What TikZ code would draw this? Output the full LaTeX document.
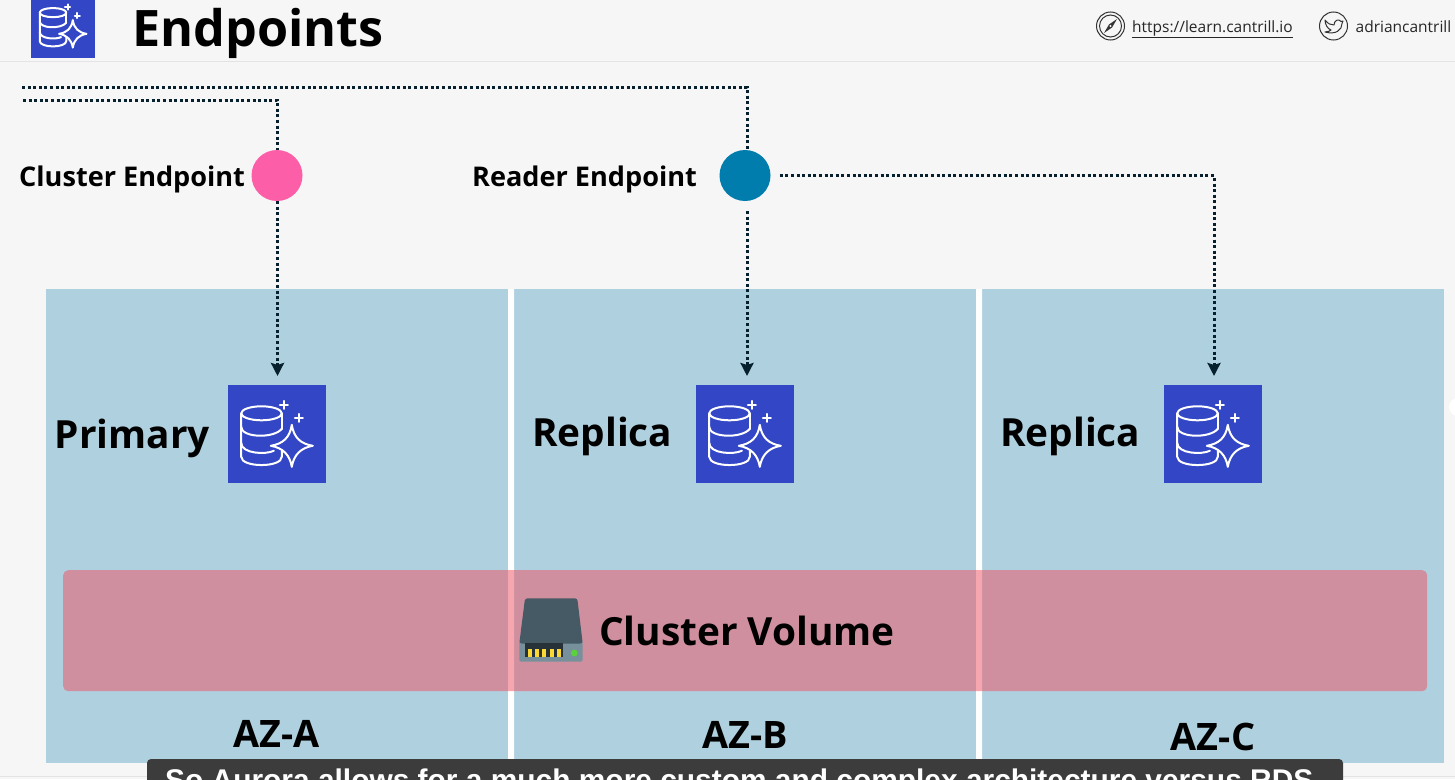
\documentclass[tikz,border=0pt]{standalone}
\usepackage{fontspec}
\setmainfont{Open Sans}
\newfontfamily\subfont{Liberation Sans}
\usetikzlibrary{arrows.meta}
\definecolor{bgc}{RGB}{246,246,246}
\definecolor{rulec}{RGB}{228,228,228}
\definecolor{azc}{RGB}{175,208,222}
\definecolor{bandc}{RGB}{236,86,102}
\definecolor{iconc}{RGB}{50,70,198}
\definecolor{pinkc}{RGB}{252,95,168}
\definecolor{bluec}{RGB}{0,124,173}
\definecolor{linec}{RGB}{6,32,46}
\definecolor{drvtop}{RGB}{69,90,100}
\definecolor{drvbase}{RGB}{120,144,156}
\definecolor{drvslot}{RGB}{38,50,56}
\definecolor{goldc}{RGB}{253,216,53}
\definecolor{greenc}{RGB}{90,210,60}
\definecolor{capc}{RGB}{60,60,60}
\tikzset{
  azbox/.style={fill=azc,draw=none,anchor=north west,minimum width=462pt,minimum height=474pt,inner sep=0pt},
  dbicon/.style={fill=iconc,draw=none,minimum size=98pt,inner sep=0pt},
  endpoint/.style={circle,draw=none,minimum size=51pt,inner sep=0pt},
  dotline/.style={draw=linec,line width=3pt,dash pattern=on 3pt off 2.6pt},
  dotarrow/.style={dotline,-{Stealth[length=13pt,width=13pt,inset=2pt]}},
  biglabel/.style={font=\bfseries\fontsize{38.8}{39}\selectfont,anchor=base west,inner sep=0pt,text=black},
  midlabel/.style={font=\bfseries\fontsize{27.1}{28}\selectfont,anchor=base west,inner sep=0pt,text=black},
  azlabel/.style={font=\bfseries\fontsize{37.8}{38}\selectfont,anchor=base,inner sep=0pt,text=black},
  toplink/.style={font=\fontsize{15.5}{16}\selectfont,anchor=base west,inner sep=0pt,text=black!85},
  glyph/.style={draw=white,line width=2pt,line cap=round,line join=round},
  dbglyph/.pic={
    \draw[glyph] (13.4,28.5) arc[start angle=180,end angle=-180,x radius=20.3,y radius=7];
    \draw[glyph] (13.4,28.5) -- (13.4,72) .. controls (13.4,83) and (54,83) .. (54,72) -- (54,66);
    \draw[glyph] (54,28.5) -- (54,44);
    \draw[glyph] (13.4,42) .. controls (13.4,53) and (46,54) .. (54,44);
    \draw[glyph] (13.4,58) .. controls (13.4,69) and (38,70) .. (46,66);
    \draw[glyph] (64,40) .. controls (66,53) and (73,59) .. (85,61)
      .. controls (73,63) and (66,70) .. (64,82)
      .. controls (62,70) and (55,63) .. (43,61)
      .. controls (55,59) and (62,53) .. (64,40) -- cycle;
    \draw[glyph] (52,20) -- (60,20) (56,16) -- (56,24);
    \draw[glyph] (67,33) -- (75,33) (71,29) -- (71,37);
  },
}
\begin{document}
\begin{tikzpicture}[x=1pt,y=-1pt]
\useasboundingbox (0,0) rectangle (1455,779);
\begin{scope}
\clip (0,0) rectangle (1455,779);
\fill[bgc] (0,0) rectangle (1455,779);
\draw[rulec,line width=1pt] (0,61.5) -- (1455,61.5);
\draw[rulec,line width=1pt] (0,776.5) -- (1455,776.5);
\fill[white] (1458,407) circle[radius=9];
% zones
\node[azbox] (zonea) at (46,289) {};
\node[azbox] (zoneb) at (514,289) {};
\node[azbox] (zonec) at (982,289) {};
\fill[white] (508,289) rectangle (514,763) (976,289) rectangle (982,763);
% cluster volume band
\node[fill=bandc,fill opacity=.525,draw=none,rounded corners=5pt,anchor=north west,minimum width=1364pt,minimum height=121pt,inner sep=0pt] (band) at (63,570) {};
% drive icon
\fill[drvbase,rounded corners=2pt] (519.3,640) rectangle (582.7,661.7);
\fill[drvtop,rounded corners=2.5pt] (525,598.3) -- (577.3,598.3) -- (582.7,643.5) -- (519.3,643.5) -- cycle;
\fill[drvslot] (525,643) rectangle (563.3,656.7);
\foreach \px in {527.7,535,542.3,549.6,556.9} \fill[goldc] (\px,649.3) rectangle ++(4,7.4);
\fill[greenc] (574.3,653) circle[radius=3.4];
\node[biglabel] (volumelbl) at (599,645) {Cluster Volume};
% header
\node[dbicon,minimum size=64pt,anchor=north west] (hicon) at (31,-6) {};
\pic[scale=.653,transform shape] at (hicon.north west) {dbglyph};
\node[font=\bfseries\fontsize{50.3}{51}\selectfont,anchor=base west,inner sep=0pt] (title) at (132,46) {Endpoints};
% top right
\draw[black!80,line width=1pt] (1110.5,26) circle[radius=14] (1110.5,26) circle[radius=11];
\fill[black!80] (1104,33) -- (1109,24.5) -- (1117,19) -- (1112,27.5) -- cycle;
\fill[bgc] (1110.5,26) circle[radius=1.2];
\node[toplink] (site) at (1132,32) {\underline{https://learn.cantrill.io}};
\draw[black!80,line width=1pt] (1333.5,26) circle[radius=14];
\draw[black!80,line width=1pt,line join=round] (1325,20) .. controls (1328,24) and (1331,25) .. (1334,25)
  .. controls (1334,20) and (1339,18.5) .. (1341,21.5) -- (1343,21) -- (1342,23.5)
  .. controls (1342,30) and (1336,35) .. (1325,32)
  .. controls (1328,32) and (1330,31) .. (1331,30)
  .. controls (1328,29) and (1325,25) .. (1325,20) -- cycle;
\node[toplink] (handle) at (1355.5,32) {adriancantrill};
% endpoints
\node[endpoint,fill=pinkc] (cluster) at (277,175.5) {};
\node[endpoint,fill=bluec] (reader) at (745,175.5) {};
\node[midlabel] (clusterlbl) at (19,186) {Cluster Endpoint};
\node[midlabel] (readerlbl) at (472,186) {Reader Endpoint};
% free ends
\coordinate (cfree) at (23,100);
\coordinate (rfree) at (22,87);
% db icons
\node[dbicon] (primary) at (277,434) {};
\node[dbicon] (replb) at (745,434) {};
\node[dbicon] (replc) at (1213,434) {};
\pic at (primary.north west) {dbglyph};
\pic at (replb.north west) {dbglyph};
\pic at (replc.north west) {dbglyph};
\node[biglabel] (primarylbl) at (54.5,448.5) {Primary};
\node[biglabel] (replblbl) at (532,446) {Replica};
\node[biglabel] (replclbl) at (1000,446) {Replica};
% connectors
\draw[dotline] (rfree) -- (747,87) -- (747,150);
\draw[dotline] (cfree) -- (277.5,100) -- (277.5,150);
\draw[dotarrow,shorten >=9pt] (277.5,201) -- (277.5,385);
\draw[dotarrow,shorten >=9pt,shorten <=10pt] (747,201) -- (747,385);
\draw[dotarrow,shorten >=9pt,shorten <=9pt] (reader.east) -- (1214,175.5) -- (1214,385);
% AZ labels
\node[azlabel] (aza) at (276.5,747) {AZ-A};
\node[azlabel] (azb) at (745,748) {AZ-B};
\node[azlabel] (azc) at (1213,750) {AZ-C};
% caption
\fill[capc,rounded corners=4pt] (147,759) rectangle (1343,800);
\node[font=\subfont\bfseries\fontsize{29.9}{30}\selectfont,text=white,anchor=base west,inner sep=0pt] (caption) at (165,790) {So Aurora allows for a much more custom and complex architecture versus RDS.};
\end{scope}
\end{tikzpicture}
\end{document}
